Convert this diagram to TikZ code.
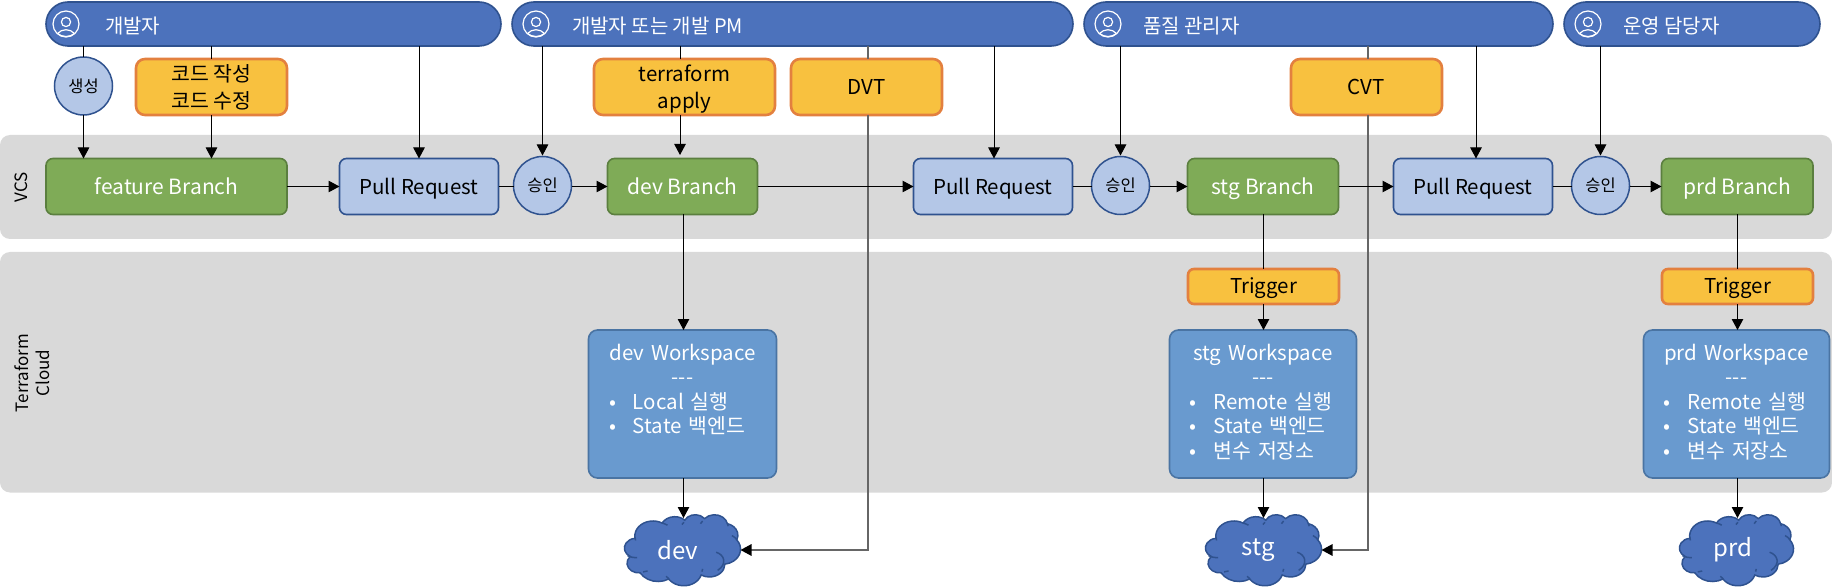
\documentclass[tikz,border=0pt]{standalone}
\usepackage{fontspec}
\setmainfont{Noto Sans CJK KR}
\usetikzlibrary{arrows.meta}
\definecolor{band}{HTML}{D9D9D9}
\definecolor{pillf}{HTML}{4C72BC}
\definecolor{pilld}{HTML}{2F528F}
\definecolor{lightf}{HTML}{B4C7E7}
\definecolor{greenf}{HTML}{7FAB57}
\definecolor{greend}{HTML}{5B7F3F}
\definecolor{yelf}{HTML}{F8C13F}
\definecolor{yeld}{HTML}{E3803F}
\definecolor{wsf}{HTML}{699ACF}
\definecolor{wsd}{HTML}{4A74A3}
\definecolor{grayline}{HTML}{666666}
\tikzset{
 x=1pt,y=-1pt,
 base/.style={outer sep=0pt,inner sep=0pt,align=center},
 bandbox/.style={base,fill=band,rounded corners=10pt},
 pill/.style={base,fill=pillf,draw=pilld,line width=1.6pt,rounded corners=22pt},
 pilltext/.style={base,text=white,anchor=west,font=\fontsize{20}{24}\selectfont,text height=20pt,text depth=2pt},
 branch/.style={base,fill=greenf,draw=greend,line width=1.6pt,rounded corners=7pt,text=white,font=\fontsize{21}{27}\selectfont,text height=19pt,text depth=3.4pt},
 prbox/.style={base,fill=lightf,draw=pilld,line width=1.6pt,rounded corners=7pt,font=\fontsize{20.5}{27}\selectfont,text height=19pt,text depth=3.4pt},
 task/.style={base,fill=yelf,draw=yeld,line width=2.6pt,rounded corners=9pt,font=\fontsize{20.5}{27}\selectfont},
 trig/.style={task,rounded corners=6pt,text height=18pt,text depth=3.4pt},
 gate/.style={base,circle,fill=lightf,draw=pilld,line width=1.5pt,font=\fontsize{16.5}{20}\selectfont},
 wsbox/.style={base,align=left,fill=wsf,draw=wsd,line width=1.6pt,rounded corners=9pt,text=white,font=\fontsize{20.5}{24.4}\selectfont},
 cloudlabel/.style={base,text=white,font=\fontsize{24}{28}\selectfont},
 side/.style={base,rotate=90,font=\fontsize{17}{21}\selectfont},
 ar/.style={line width=1pt,-{Triangle[length=11pt,width=11.5pt]},black},
 ln/.style={line width=1pt,black},
 grayar/.style={line width=1.4pt,grayline,-{Triangle[length=11pt,width=11.5pt,color=black,fill=black]}},
 grayln/.style={line width=1.4pt,grayline},
}
% style, name, x1, y1, x2, y2, text
\newcommand{\bx}[7]{%
 \pgfmathsetmacro\bxw{#5-#3}\pgfmathsetmacro\bxh{#6-#4}%
 \pgfmathsetmacro\bxa{(#3+#5)/2}\pgfmathsetmacro\bxb{(#4+#6)/2}%
 \node[#1,minimum width=\bxw pt,minimum height=\bxh pt] (#2) at (\bxa,\bxb) {#7};}
\newcommand{\gt}[5]{\node[gate,minimum size=#4 pt] (#1) at (#2,#3) {#5};}
\newcommand{\usericon}[2]{%
 \begin{scope}[shift={(#1,#2)},draw=white,line width=1.2pt]
  \draw (0,0) circle[radius=13pt];
  \draw (0,-2) circle[radius=4.6pt];
  \draw (-8.5,9.5) .. controls (-4,4.5) and (4,4.5) .. (8.5,9.5);
  \draw (-8.5,9.5) .. controls (-4,13.5) and (4,13.5) .. (8.5,9.5);
 \end{scope}}
% x0,y0,w,h
\newcommand{\cloudshape}[4]{%
 \pgfmathsetmacro\csx{#3/432}\pgfmathsetmacro\csy{#4/432}%
 \begin{scope}[shift={(#1,#2)},xscale=\csx,yscale=-\csy,draw=pilld,line width=1.5pt]
 \draw[fill=pillf] (39pt,143.7pt)
  arc[start angle=-187.74,delta angle=128.10,x radius=67.53pt,y radius=91.90pt]
  arc[start angle=-152.02,delta angle=106.57,x radius=53.33pt,y radius=72.67pt]
  arc[start angle=-153.48,delta angle=116.15,x radius=43.65pt,y radius=59.45pt]
  arc[start angle=-139.69,delta angle=129.48,x radius=48.57pt,y radius=65.95pt]
  arc[start angle=-74.77,delta angle=97.99,x radius=53.33pt,y radius=72.73pt]
  arc[start angle=-37.53,delta angle=119.39,x radius=67.75pt,y radius=92.20pt]
  arc[start angle=0.46,delta angle=121.51,x radius=57.85pt,y radius=78.67pt]
  arc[start angle=16.85,delta angle=129.38,x radius=67.52pt,y radius=92.15pt]
  arc[start angle=58.98,delta angle=91.20,x radius=77.20pt,y radius=105.43pt]
  arc[start angle=83.31,delta angle=139.82,x radius=43.60pt,y radius=59.18pt]
  arc[start angle=120.34,delta angle=143.77,x radius=43.45pt,y radius=59.45pt]
  -- cycle;
 \draw (46.9pt,261.8pt) .. controls (33pt,263pt) and (20pt,259pt) .. (11pt,250pt);
 \draw (69.3pt,349pt) .. controls (75pt,349pt) and (81pt,347pt) .. (86pt,344pt);
 \draw (164.8pt,390.9pt) .. controls (160pt,386pt) and (157pt,381pt) .. (155pt,376pt);
 \draw (288.3pt,347.5pt) .. controls (290pt,342pt) and (291pt,337pt) .. (291pt,331pt);
 \draw (341.3pt,229.5pt) .. controls (372pt,245pt) and (384pt,300pt) .. (347pt,340pt);
 \draw (418pt,153.5pt) .. controls (414pt,143pt) and (409pt,136pt) .. (400pt,128pt);
 \draw (383.2pt,54.3pt) .. controls (385pt,60pt) and (386pt,65pt) .. (386pt,71pt);
 \draw (290.8pt,39.5pt) .. controls (287pt,45pt) and (285pt,50pt) .. (283pt,56pt);
 \draw (221.4pt,47.2pt) .. controls (218pt,51pt) and (216pt,55pt) .. (214pt,61pt);
 \draw (140pt,51.9pt) .. controls (147pt,55pt) and (154pt,59pt) .. (160pt,65pt);
 \draw (41.3pt,157.9pt) .. controls (40pt,149pt) and (40pt,143pt) .. (39pt,137pt);
 \end{scope}}
\newcommand{\wsi}[1]{\hspace*{20pt}\makebox[24pt][l]{•}#1\\}
\newcommand{\wsl}[1]{\hspace*{20pt}\makebox[24pt][l]{•}#1\par\vspace*{4pt}}
\newcommand{\wsc}[1]{\makebox[\linewidth][c]{#1}\\}
\begin{document}
\begin{tikzpicture}
\useasboundingbox (0,0) rectangle (1832,588);
% bands
\bx{bandbox}{vcsband}{0}{135}{1832}{239}{}
\bx{bandbox}{tfband}{0}{252}{1832}{492.5}{}
\node[side] (vcslabel) at (21,187) {VCS};
\node[side] (tflabel) at (32,373) {Terraform\\Cloud};
% actors
\bx{pill}{a1}{46}{2}{501}{46}{}
\bx{pill}{a2}{512}{2}{1073}{46}{}
\bx{pill}{a3}{1084}{2}{1553}{46}{}
\bx{pill}{a4}{1564}{2}{1820}{46}{}
\usericon{66}{24}\usericon{536}{24}\usericon{1108}{24}\usericon{1588}{24}
\node[pilltext] (a1t) at (105,24.5) {개발자};
\node[pilltext] (a2t) at (572,24.5) {개발자 또는 개발 PM};
\node[pilltext] (a3t) at (1143,24.5) {품질 관리자};
\node[pilltext] (a4t) at (1623,24.5) {운영 담당자};
% row 2
\gt{gen}{83.5}{86}{58}{생성}
\bx{task}{code}{136}{59}{287}{115}{코드 작성\\코드 수정}
\bx{task}{terra}{594}{59}{775}{115}{\rule{0pt}{20.5pt}terraform\\apply}
\bx{task}{dvt}{791}{59}{942}{115}{DVT}
\bx{task}{cvt}{1291}{59}{1442}{115}{CVT}
% VCS row
\bx{branch}{feat}{46}{158.5}{287}{214.5}{feature Branch}
\bx{prbox}{pr1}{339.5}{158.5}{498.5}{214.5}{Pull Request}
\gt{ok1}{542.5}{185.5}{58}{승인}
\bx{branch}{devb}{607.5}{158.5}{757.5}{214.5}{dev Branch}
\bx{prbox}{pr2}{913.5}{158.5}{1072.5}{214.5}{Pull Request}
\gt{ok2}{1120.5}{185.5}{58}{승인}
\bx{branch}{stgb}{1187.5}{158.5}{1338.5}{214.5}{stg Branch}
\bx{prbox}{pr3}{1393.5}{158.5}{1552.5}{214.5}{Pull Request}
\gt{ok3}{1600.5}{185.5}{58}{승인}
\bx{branch}{prdb}{1661.5}{158.5}{1813}{214.5}{prd Branch}
% triggers
\bx{trig}{trg1}{1188}{269}{1339}{304}{Trigger}
\bx{trig}{trg2}{1662}{269}{1813}{304}{Trigger}
% workspaces
\bx{wsbox,text width=187pt}{wsd}{588.5}{330}{776.5}{478}{\wsc{dev Workspace}\wsc{-{}-{}-}\wsi{Local 실행}\wsl{State 백엔드}\vspace*{24.4pt}}
\bx{wsbox,text width=187pt}{wss}{1169.5}{330}{1356.5}{478}{\wsc{stg Workspace}\wsc{-{}-{}-}\wsi{Remote 실행}\wsi{State 백엔드}\wsl{변수 저장소}}
\bx{wsbox,text width=186pt}{wsp}{1643.5}{330}{1829.5}{478}{\wsc{prd Workspace}\wsc{-{}-{}-}\wsi{Remote 실행}\wsi{State 백엔드}\wsl{변수 저장소}}
% clouds
\cloudshape{624.5}{514.5}{116}{71}
\cloudshape{1205.5}{514.5}{116}{71}
\cloudshape{1679.5}{514.5}{114}{71}
\node[cloudlabel,minimum width=116pt,minimum height=64pt] (cd) at (682.5,550) {\hspace*{-9pt}dev};
\node[cloudlabel,minimum width=116pt,minimum height=64pt] (cs) at (1263.5,550) {\hspace*{-11pt}stg};
\node[cloudlabel,minimum width=114pt,minimum height=64pt] (cp) at (1736.5,550) {\hspace*{-7pt}prd};
% routing columns
\coordinate (xT) at (680,0);
\coordinate (xD) at (868,0);
\coordinate (xC) at (1368,0);
\coordinate (xP2) at (994,0);
\coordinate (xP3) at (1476,0);
\coordinate (xD2) at (683.5,0);
\coordinate (xS2) at (1263.5,0);
\coordinate (xR2) at (1737.5,0);
% gray lines
\draw[grayln] (a2.south -| xD) -- (dvt.north -| xD);
\draw[grayar] (dvt.south -| xD) |- (cd.east);
\draw[grayln] (a3.south -| xC) -- (cvt.north -| xC);
\draw[grayar] (cvt.south -| xC) |- (cs.east);
% black connectors
\draw[ln] (a1.south -| gen.north) -- (gen.north);
\draw[ar] (gen.south) -- (feat.north -| gen.south);
\draw[ln] (a1.south -| code.north) -- (code.north);
\draw[ar] (code.south) -- (feat.north -| code.south);
\draw[ar] (a1.south -| pr1.north) -- (pr1.north);
\draw[ar,shorten >=1pt] (a2.south -| ok1.north) -- (ok1.north);
\draw[ln] (a2.south -| xT) -- (terra.north -| xT);
\draw[ar,shorten >=3.5pt] (terra.south -| xT) -- (devb.north -| xT);
\draw[ar] (a2.south -| xP2) -- (pr2.north -| xP2);
\draw[ar,shorten >=1pt] (a3.south -| ok2.north) -- (ok2.north);
\draw[ar] (a3.south -| xP3) -- (pr3.north -| xP3);
\draw[ar,shorten >=1pt] (a4.south -| ok3.north) -- (ok3.north);
\draw[ar] (feat.east) -- (pr1.west);
\draw[ln] (pr1.east) -- (pr1.east -| ok1.west);
\draw[ar] (ok1.east |- devb.west) -- (devb.west);
\draw[ar] (devb.east) -- (pr2.west);
\draw[ln] (pr2.east) -- (pr2.east -| ok2.west);
\draw[ar] (ok2.east |- stgb.west) -- (stgb.west);
\draw[ar] (stgb.east) -- (pr3.west);
\draw[ln] (pr3.east) -- (pr3.east -| ok3.west);
\draw[ar] (ok3.east |- prdb.west) -- (prdb.west);
\draw[ar] (devb.south -| xD2) -- (wsd.north -| xD2);
\draw[ar] (wsd.south -| xD2) -- (cd.north -| xD2);
\draw[ln] (stgb.south -| xS2) -- (trg1.north -| xS2);
\draw[ar] (trg1.south -| xS2) -- (wss.north -| xS2);
\draw[ar] (wss.south -| xS2) -- (cs.north -| xS2);
\draw[ln] (prdb.south -| xR2) -- (trg2.north -| xR2);
\draw[ar] (trg2.south -| xR2) -- (wsp.north -| xR2);
\draw[ar] (wsp.south -| xR2) -- (cp.north -| xR2);
\end{tikzpicture}
\end{document}
